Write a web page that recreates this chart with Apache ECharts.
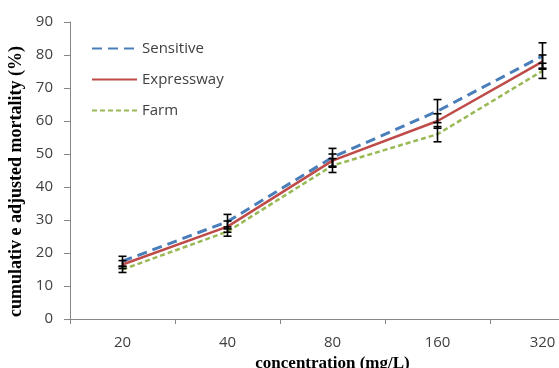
<!DOCTYPE html>
<html>
<head>
<meta charset="utf-8">
<script src="https://cdn.jsdelivr.net/npm/echarts@6.0.0/dist/echarts.min.js"></script>
<style>
  html, body { margin: 0; padding: 0; background: #fff; }
  #chart { width: 559px; height: 368px; }
</style>
</head>
<body>
<div id="chart"></div>
<script>
// concentration levels (mg/L)
const categories = ['20', '40', '80', '160', '320'];

// mean cumulative adjusted mortality (%)
const sensitive = [17.5, 29.5, 49.0, 63.0, 79.7];
const expressway = [16.5, 28.0, 48.0, 60.0, 78.0];
const farm = [15.0, 26.5, 46.5, 56.0, 75.2];

// error bar half-widths (%)
const sensitiveErr = [1.5, 2.2, 2.7, 3.5, 4.0];
const expresswayErr = [1.2, 1.7, 2.0, 2.2, 2.0];
const farmErr = [0.9, 1.4, 2.1, 2.3, 2.3];

const yTicks = { min: 0, max: 90, interval: 10 };

const labelFont = '"Open Sans", "Noto Sans", sans-serif';
const titleFont = '"Liberation Serif", "DejaVu Serif", serif';

function errData(vals, errs) {
  return vals.map((v, i) => [i, v - errs[i], v + errs[i]]);
}

// vertical bar with caps, one per point
function renderErr(params, api) {
  const lo = api.coord([api.value(0), api.value(1)]);
  const hi = api.coord([api.value(0), api.value(2)]);
  const cap = 4;
  const st = { stroke: '#000', lineWidth: 1.6 };
  return {
    type: 'group',
    children: [
      { type: 'line', shape: { x1: lo[0], y1: lo[1], x2: hi[0], y2: hi[1] }, style: st },
      { type: 'line', shape: { x1: lo[0] - cap, y1: lo[1], x2: lo[0] + cap, y2: lo[1] }, style: st },
      { type: 'line', shape: { x1: hi[0] - cap, y1: hi[1], x2: hi[0] + cap, y2: hi[1] }, style: st }
    ]
  };
}

const chart = echarts.init(document.getElementById('chart'), null, { renderer: 'canvas' });

chart.setOption({
  animation: false,
  backgroundColor: '#fff',
  // the plot runs past the right edge of the picture, as in the original
  grid: { left: 70, top: 22, width: 525, height: 297, outerBoundsMode: 'none', containLabel: false },
  legend: {
    orient: 'vertical',
    left: 86,
    top: 36,
    itemWidth: 45,
    itemHeight: 14,
    itemGap: 16,
    itemStyle: { opacity: 0 },
    data: ['Sensitive', 'Expressway', 'Farm'],
    textStyle: { fontFamily: labelFont, fontSize: 15, color: '#404040' }
  },
  xAxis: {
    type: 'category',
    data: categories,
    boundaryGap: true,
    name: 'concentration (mg/L)',
    nameLocation: 'middle',
    nameGap: 30,
    nameTextStyle: { fontFamily: titleFont, fontWeight: 'bold', fontSize: 17, color: '#000' },
    axisLine: { lineStyle: { color: '#868686', width: 1 } },
    axisTick: { show: true, length: 5, lineStyle: { color: '#868686' } },
    axisLabel: { margin: 16, fontFamily: labelFont, fontSize: 15, color: '#404040' },
    splitLine: { show: false }
  },
  yAxis: {
    type: 'value',
    min: yTicks.min,
    max: yTicks.max,
    interval: yTicks.interval,
    name: 'cumulativ e adjusted mortality (%)',
    nameLocation: 'middle',
    nameGap: 45,
    nameTextStyle: { fontFamily: titleFont, fontWeight: 'bold', fontSize: 18, color: '#000', padding: [0, 22, 0, 0] },
    axisLine: { show: true, lineStyle: { color: '#868686', width: 1 } },
    axisTick: { show: true, length: 6, lineStyle: { color: '#868686' } },
    axisLabel: { margin: 17, fontFamily: labelFont, fontSize: 15, color: '#404040' },
    splitLine: { show: false }
  },
  series: [
    {
      name: 'Sensitive', type: 'line', data: sensitive, symbol: 'none', z: 3,
      lineStyle: { color: '#4a7ebb', width: 3, type: [10, 6] },
      itemStyle: { color: '#4a7ebb' }
    },
    {
      name: 'Expressway', type: 'line', data: expressway, symbol: 'none', z: 4,
      lineStyle: { color: '#be4b48', width: 2.5, type: 'solid' },
      itemStyle: { color: '#be4b48' }
    },
    {
      name: 'Farm', type: 'line', data: farm, symbol: 'none', z: 2,
      lineStyle: { color: '#98b954', width: 2.5, type: [5, 3] },
      itemStyle: { color: '#98b954' }
    },
    { type: 'custom', renderItem: renderErr, data: errData(sensitive, sensitiveErr), z: 5, encode: { x: 0, y: [1, 2] } },
    { type: 'custom', renderItem: renderErr, data: errData(expressway, expresswayErr), z: 5, encode: { x: 0, y: [1, 2] } },
    { type: 'custom', renderItem: renderErr, data: errData(farm, farmErr), z: 5, encode: { x: 0, y: [1, 2] } }
  ]
});
</script>
</body>
</html>
